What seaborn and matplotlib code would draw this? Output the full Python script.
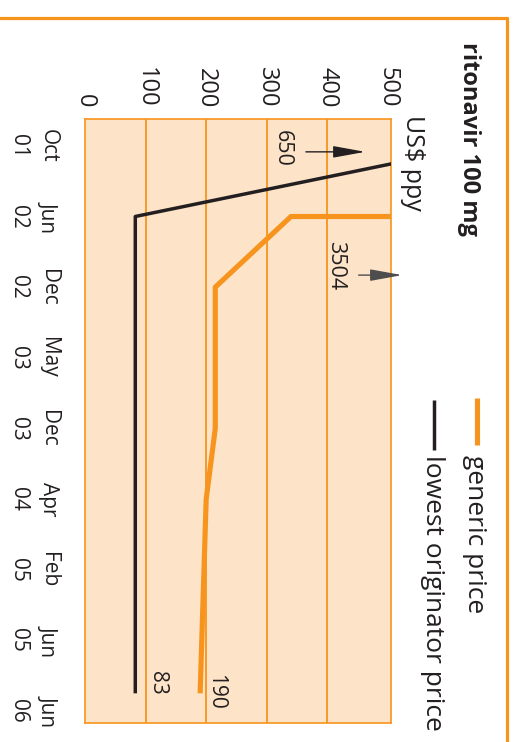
import matplotlib
matplotlib.use("Agg")
import matplotlib.pyplot as plt
from matplotlib.lines import Line2D
import seaborn as sns
import pandas as pd

# Periods shown along the time axis (evenly spaced)
periods = ["Oct\n01", "Jun\n02", "Dec\n02", "May\n03", "Dec\n03",
           "Apr\n04", "Feb\n05", "Jun\n05", "Jun\n06"]

# Generic price, US$ per patient per year (position on the period axis, price)
generic_pos = [1, 1, 2, 4, 5, 7.75]
generic_price = [3504, 340, 215, 215, 200, 190]

# Lowest originator price
orig_pos = [0, 1, 7.75]
orig_price = [650, 83, 83]

value_ticks = [0, 100, 200, 300, 400, 500]

ORANGE = "#F7941D"
PEACH = "#FDE3C8"
BLACK = "#231F20"

W, H = 515, 742
sns.set_theme(style="white")
plt.rcParams["font.family"] = ["Open Sans", "DejaVu Sans"]

fig = plt.figure(figsize=(W / 100, H / 100), dpi=100)


def fx(px):
    return px / W


def fy(py):
    return 1 - py / H


ax = fig.add_axes([fx(85), fy(723), (391 - 85) / W, (723 - 119) / H])
ax.set_facecolor(PEACH)

gen = pd.DataFrame({"pos": generic_pos, "price": generic_price})
org = pd.DataFrame({"pos": orig_pos, "price": orig_price})

sns.lineplot(data=org, x="price", y="pos", sort=False, estimator=None,
             color=BLACK, lw=2.5, ax=ax, solid_capstyle="butt", zorder=3)
sns.lineplot(data=gen, x="price", y="pos", sort=False, estimator=None,
             color=ORANGE, lw=3.7, ax=ax, solid_capstyle="butt", zorder=4)

ax.set_xlim(0, 505)
ax.set_ylim(8.17, -0.38)
ax.set_xlabel("")
ax.set_ylabel("")

for v in value_ticks[1:-1]:
    ax.axvline(v, color=ORANGE, lw=1.3, zorder=1)

for s in ax.spines.values():
    s.set_color(ORANGE)
    s.set_linewidth(1.2)
    s.set_visible(True)

ax.xaxis.tick_top()
ax.set_xticks(value_ticks)
ax.set_xticklabels([str(v) for v in value_ticks], rotation=-90,
                   ha="center", va="bottom", fontsize=17, color=BLACK)
ax.set_yticks(range(len(periods)))
ax.set_yticklabels(periods, rotation=-90, ha="right", va="center",
                   fontsize=15, color=BLACK, linespacing=1.55,
                   multialignment="center")
ax.tick_params(axis="both", length=0)
ax.tick_params(axis="x", pad=8)
ax.tick_params(axis="y", pad=19)

# Values beyond the scale
arrow_style = "-|>,head_length=1.1,head_width=0.2"
ax.annotate("", xy=(467, 0.085), xytext=(360, 0.085),
            arrowprops=dict(arrowstyle=arrow_style, mutation_scale=18, lw=1,
                            color=BLACK),
            annotation_clip=False)
ax.text(325, 0.04, "650", rotation=-90, ha="center", va="center",
        fontsize=15.5, color=BLACK)
ax.annotate("", xy=(528, 1.83), xytext=(447, 1.83),
            arrowprops=dict(arrowstyle=arrow_style, mutation_scale=18, lw=1,
                            color="#4d4d4d"),
            annotation_clip=False)
ax.text(414, 1.69, "3504", rotation=-90, ha="center", va="center",
        fontsize=15.5, color=BLACK)

# End values
ax.text(119, 7.6, "83", rotation=-90, ha="center", va="center",
        fontsize=15, color=BLACK)
ax.text(215, 7.73, "190", rotation=-90, ha="center", va="center",
        fontsize=15, color=BLACK)

# Title and unit
fig.text(fx(469), fy(42), "ritonavir 100 mg", rotation=-90, ha="center",
         va="top", fontsize=17, fontweight="bold", color=BLACK)
fig.text(fx(413), fy(115), "US$ ppy", rotation=-90, ha="center", va="top",
         fontsize=18, color=BLACK)

# Legend
fig.add_artist(Line2D([fx(477), fx(477)], [fy(398), fy(445)],
                      color=ORANGE, lw=3.7, solid_capstyle="butt"))
fig.add_artist(Line2D([fx(434), fx(434)], [fy(400), fy(450)],
                      color=BLACK, lw=2.5, solid_capstyle="butt"))
fig.text(fx(475), fy(455), "generic price", rotation=-90, ha="center",
         va="top", fontsize=19, color=BLACK)
fig.text(fx(433), fy(455), "lowest originator price", rotation=-90,
         ha="center", va="top", fontsize=19, color=BLACK)

# Panel frame
fig.add_artist(Line2D([0, fx(507)], [fy(18), fy(18)], color=ORANGE, lw=2.3))
fig.add_artist(Line2D([fx(507), fx(507)], [fy(18), 0], color=ORANGE, lw=2.3))

fig.savefig("out.png", dpi=100)
